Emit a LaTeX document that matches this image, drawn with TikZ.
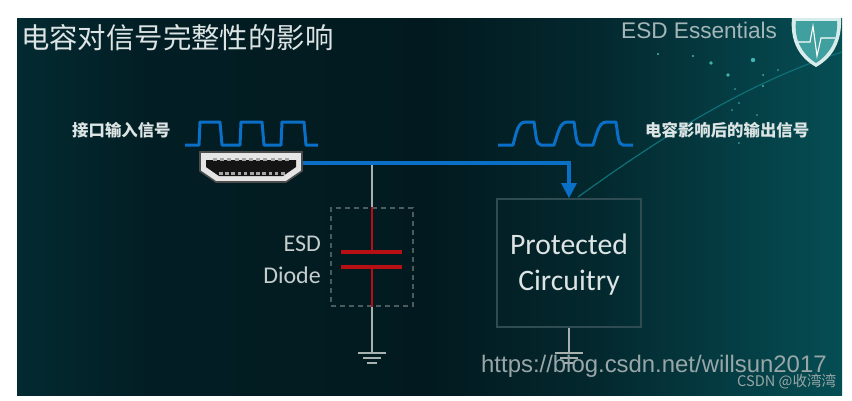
\documentclass[tikz,border=0pt]{standalone}
\usepackage{fontspec}
\setmainfont{Carlito}
\newfontfamily\cjkf{Noto Sans CJK SC}
\newfontfamily\lib{Liberation Sans}
\usetikzlibrary{arrows.meta,calc}
\definecolor{sigblue}{HTML}{0A6FC6}
\definecolor{wirec}{HTML}{A9B0B0}
\definecolor{redc}{HTML}{B80F14}
\definecolor{framec}{HTML}{2F4C52}
\definecolor{dashc}{HTML}{4A5C5E}
\definecolor{txtc}{HTML}{DCE4E4}
\definecolor{logoc}{HTML}{A5B6B8}
\definecolor{markc}{HTML}{98A6A8}
\definecolor{dotc}{HTML}{4FC9C4}
\definecolor{streak}{HTML}{0F7078}
\definecolor{bgA}{HTML}{032A31}
\definecolor{bgB}{HTML}{021E24}
\definecolor{bgC}{HTML}{021A1F}
\definecolor{bgD}{HTML}{03282E}
\definecolor{bgE}{HTML}{054E54}
\pgfdeclarehorizontalshading{panelbg}{100bp}{
  color(0bp)=(bgA);
  color(25bp)=(bgA);
  color(33bp)=(bgB);
  color(50bp)=(bgC);
  color(60bp)=(bgD);
  color(75bp)=(bgE);
  color(100bp)=(bgE)}
\tikzset{
  sig/.style={draw=sigblue,line width=4pt,line join=miter},
  wave/.style={draw=sigblue,line width=3pt,line join=round},
  wire/.style={draw=wirec,line width=1.6pt},
  red wire/.style={draw=redc,line width=2.6pt},
  plate/.style={draw=redc,line width=3.2pt},
  gnd/.style={draw=wirec,line width=2pt},
  lab/.style={text=txtc,inner sep=0pt,font=\cjkf\bfseries\fontsize{16.4}{17}\selectfont},
  esdlab/.style={text=txtc!90!black,inner sep=0pt,anchor=east,font=\fontsize{24}{26}\selectfont},
  star/.style={fill=dotc,circle,inner sep=0pt}
}
\begin{document}
\begin{tikzpicture}[x=1pt,y=-1pt]
\useasboundingbox (0,0) rectangle (852,400);
\fill[white] (0,0) rectangle (852,400);
\shade[shading=panelbg] (17,18) rectangle (842,395);
% streak
\draw[streak,line width=1.2pt] (578,197) .. controls (650,145) and (740,85) .. (842,52);
% dots
\foreach \p/\r in {{658,54}/1.2,{693,56}/1.2,{711,63}/1.8,{728,75}/1.8,{753,60}/2.2,{763,75}/1,{735,89}/.8,{763,86}/1.2,{739,103}/.8,{778,70}/.8,{732,110}/.8,{757,115}/.8,{739,143}/.8}
  \node[star,minimum size=2*\r pt,draw=none,opacity=.85] at (\p) {};
% title
\node[anchor=west,inner sep=0pt,text=txtc] (title) at (21,38) {\cjkf\fontsize{28.4}{30}\selectfont 电容对信号完整性的影响};
\node[anchor=west,inner sep=0pt,text=logoc] (logo) at (621,30) {\lib\fontsize{22.6}{25}\selectfont ESD Essentials};
% shield
\fill[fill=white!85!teal,draw=none] (816,18) -- (792,18) .. controls (790,40) and (798,57) .. (816,67) .. controls (834,57) and (842,40) .. (841,18) -- cycle;
\fill[fill=teal!75!white] (816,21) -- (796,21) .. controls (794,40) and (802,54) .. (816,63) .. controls (830,54) and (838,40) .. (837,21) -- cycle;
\draw[white,line width=1.1pt] (798,42) -- (810,42) -- (813,26) -- (817,56) -- (821,38) -- (835,38);
% labels
\node[lab,anchor=west] (inlab) at (72,130) {接口输入信号};
\node[lab,anchor=west] (outlab) at (645,130) {电容影响后的输出信号};
% input wave
\coordinate (ws) at (185,145);
\coordinate (we) at (318,145);
\draw[wave] (ws) -- (199,145) -- (200,122) -- (220,122) -- (222,145) -- (240,145) -- (241,122) -- (262,122) -- (264,145) -- (281,145) -- (282,122) -- (304,122) -- (306,145) -- (we);
% output wave
\coordinate (os) at (498,145);
\coordinate (oe) at (633,145);
\draw[wave] (os) -- (513,145) .. controls (517,130) and (518,122) .. (526,122) -- (534,122) .. controls (536,135) and (536,145) .. (541,145) -- (554,145) .. controls (559,130) and (560,122) .. (568,122) -- (574,122) .. controls (576,135) and (576,145) .. (581,145) -- (593,145) .. controls (598,130) and (599,122) .. (607,122) -- (616,122) .. controls (618,135) and (618,145) .. (623,145) -- (oe);
% protected circuitry
\node[draw=framec,line width=1.2pt,minimum width=144pt,minimum height=128pt,inner sep=0pt] (prot) at (569,263) {};
\node[text=txtc,inner sep=0pt,font=\fontsize{29.7}{36}\selectfont,align=center] (prottext) at (569,265) {Protected\\Circuitry};
% ESD box
\node[draw=dashc,dashed,dash pattern=on 5pt off 4pt,line width=1.2pt,minimum width=82pt,minimum height=98pt,inner sep=0pt] (esd) at (372,257) {};
\node[esdlab] (esdt) at (321,244) {ESD};
\node[esdlab] (diodet) at (321,275) {Diode};
% plates
\coordinate (pa) at (372,252);
\coordinate (pb) at (372,267);
\draw[plate] (341,252) -- (402,252);
\draw[plate] (341,267) -- (402,267);
\draw[red wire] (esd.north) -- (pa);
\draw[red wire] (pb) -- (esd.south);
% junction + wires
\coordinate (hdmi) at (302,163);
\coordinate (jn) at (372,163);
\coordinate (g1) at (372,352);
\coordinate (g2) at (569,353);
\draw[wire] (jn) -- (esd.north);
\draw[wire] (esd.south) -- (g1);
\draw[wire] (prot.south) -- (g2);
\draw[gnd] (358,353) -- (386,353);
\draw[gnd] (363,358) -- (381,358);
\draw[gnd] (367,363) -- (377,363);
\draw[gnd] (555,353) -- (583,353);
\draw[gnd] (560,358) -- (578,358);
\draw[gnd] (564,363) -- (574,363);
% blue line
\draw[sig] (hdmi) -- (jn) -- (569,163) -- (569,186);
\fill[sigblue] (561,183) -- (577,183) -- (569,198) -- cycle;
% HDMI connector
\fill[white!80!gray,draw=gray!60!black,line width=1.6pt] (200,152) -- (302,152) -- (302,171) -- (286,182) -- (216,182) -- (200,171) -- cycle;
\fill[black!92] (206,160) -- (296,160) -- (296,167) -- (283,176) -- (219,176) -- (206,167) -- cycle;
\foreach \i in {0,...,10} {
  \fill[gray!70] (213+\i*7.2,158) rectangle ++(4,3);
  \fill[gray!70] (219+\i*6.2,172) rectangle ++(3.5,3);
}
% watermarks
\node[anchor=west,inner sep=0pt,text=markc] (wm) at (481,366) {\lib\fontsize{23.9}{27}\selectfont https://blog.csdn.net/willsun2017};
\node[anchor=west,inner sep=0pt,text=markc] (wm2) at (737,382) {\cjkf\fontsize{14.6}{16}\selectfont CSDN @收湾湾};
\end{tikzpicture}
\end{document}
